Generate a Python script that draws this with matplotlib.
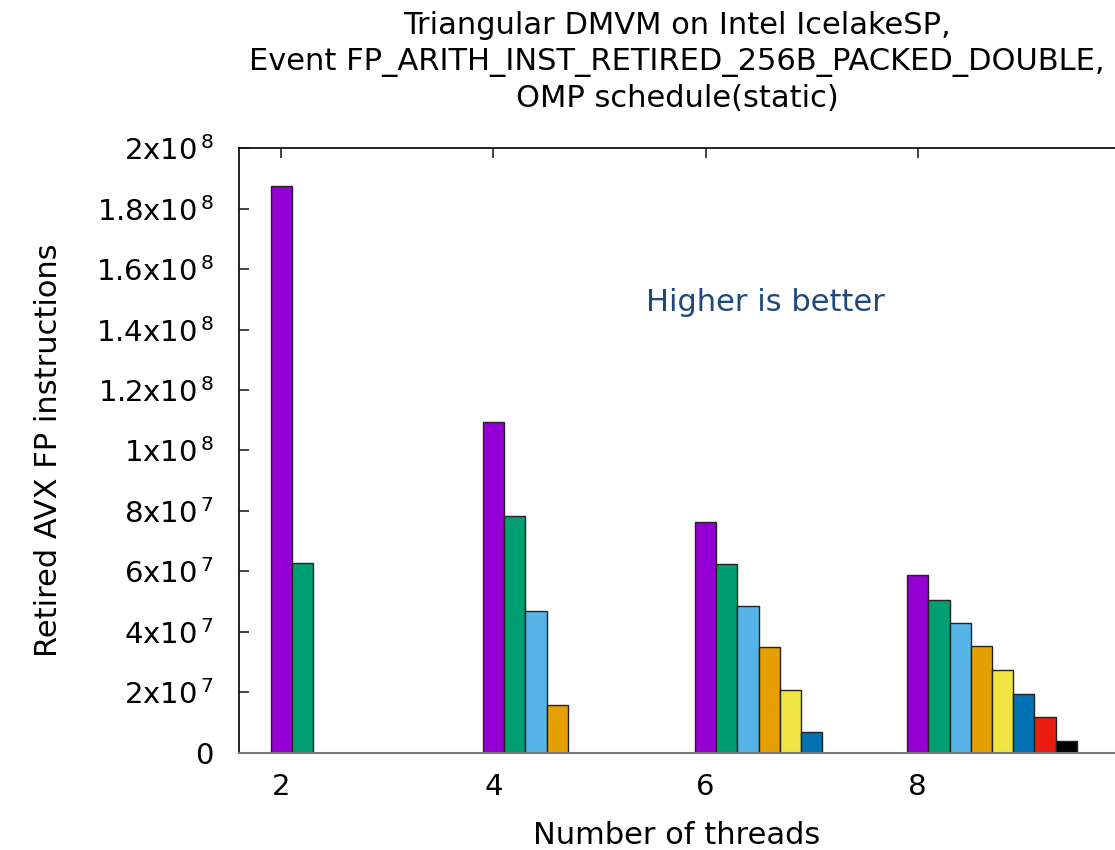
import matplotlib
matplotlib.use("Agg")
import matplotlib.pyplot as plt

# retired AVX FP instructions per thread, for each thread count
threads = [2, 4, 6, 8]
counts = {
    2: [1.876e8, 0.627e8],
    4: [1.093e8, 0.782e8, 0.467e8, 0.156e8],
    6: [0.762e8, 0.625e8, 0.486e8, 0.349e8, 0.206e8, 0.069e8],
    8: [0.588e8, 0.505e8, 0.430e8, 0.3525e8, 0.272e8, 0.195e8, 0.1185e8, 0.038e8],
}
yticks = [0, 2e7, 4e7, 6e7, 8e7, 1e8, 1.2e8, 1.4e8, 1.6e8, 1.8e8, 2e8]
ylabels = ["0", "2x10$^{\\,7}$", "4x10$^{\\,7}$", "6x10$^{\\,7}$", "8x10$^{\\,7}$",
           "1x10$^{\\,8}$", "1.2x10$^{\\,8}$", "1.4x10$^{\\,8}$", "1.6x10$^{\\,8}$",
           "1.8x10$^{\\,8}$", "2x10$^{\\,8}$"]

COLORS = ["#9400D3", "#009E73", "#56B4E9", "#E69F00",
          "#F0E442", "#0072B2", "#E51E10", "#000000"]
BAR_W = 0.2

plt.rcParams["font.family"] = ["DejaVu Sans"]
plt.rcParams["mathtext.fontset"] = "dejavusans"

fig = plt.figure(figsize=(11.15, 8.5), dpi=100)
ax = fig.add_axes([0.2143, 0.1147, 0.7857, 0.7108])

for t in threads:
    vals = counts[t]
    xs = [t + BAR_W * i for i in range(len(vals))]
    ax.bar(xs, vals, width=BAR_W, color=COLORS[:len(vals)],
           edgecolor="#222222", linewidth=1.0, zorder=2)

ax.set_xlim(1.6, 9.86)
ax.set_ylim(0, 2e8)
ax.set_xticks(threads)
ax.set_xticklabels([str(t) for t in threads], fontsize=21)
ax.set_yticks(yticks)
ax.set_yticklabels(ylabels, fontsize=21)

ax.tick_params(axis="both", direction="in", length=7, width=1.2,
               top=True, right=False, color="#222222")
ax.tick_params(axis="y", pad=18)
ax.tick_params(axis="x", pad=15)

ax.spines["right"].set_visible(False)
for s in ["top", "left"]:
    ax.spines[s].set_linewidth(1.3)
    ax.spines[s].set_color("#111111")
ax.spines["bottom"].set_linewidth(1.5)
ax.spines["bottom"].set_color("#777777")

ax.set_xlabel("Number of threads", fontsize=22, labelpad=14)
ax.set_ylabel("Retired AVX FP instructions", fontsize=22, labelpad=24)
ax.set_title("Triangular DMVM on Intel IcelakeSP,\n"
             "Event FP_ARITH_INST_RETIRED_256B_PACKED_DOUBLE,\n"
             "OMP schedule(static)", fontsize=22, pad=30, linespacing=1.3)

ax.text(6.56, 1.49e8, "Higher is better", fontsize=22, color="#1F497D",
        ha="center", va="center")

fig.savefig("out.png", dpi=100)
